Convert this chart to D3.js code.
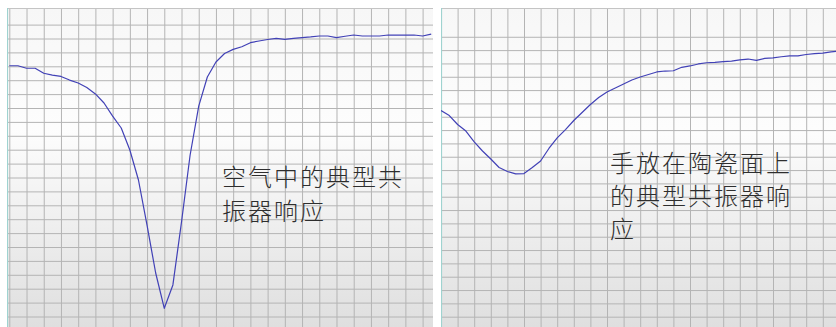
<!DOCTYPE html>
<html>
<head>
<meta charset="utf-8">
<script src="https://cdn.jsdelivr.net/npm/d3@7/dist/d3.min.js"></script>
<style>
  html, body { margin: 0; padding: 0; background: #ffffff; }
  svg { display: block; }
</style>
</head>
<body>
<svg id="chart" width="836" height="327"></svg>
<script>
// Resonator response in air (sample index 0..49, level in grid units)
const airResponse = [
  18.04, 18.04, 17.86, 17.86, 17.50, 17.37, 17.27, 17.01, 16.80, 16.47,
  16.01, 15.36, 14.42, 13.56, 11.98, 9.82, 6.55, 3.13, 0.59, 2.27,
  6.80, 11.62, 15.14, 17.23, 18.31, 18.92, 19.22, 19.41, 19.70, 19.82,
  19.93, 20.01, 19.94, 20.01, 20.06, 20.11, 20.18, 20.18, 20.06, 20.16,
  20.25, 20.18, 20.18, 20.18, 20.25, 20.25, 20.25, 20.25, 20.18, 20.32
];

// Resonator response with a hand resting on the ceramic surface
const handResponse = [
  15.47, 15.09, 14.42, 13.93, 13.11, 12.43, 11.83, 11.19, 10.89, 10.71,
  10.74, 11.19, 11.68, 12.62, 13.41, 14.04, 14.72, 15.32, 15.92, 16.44,
  16.86, 17.16, 17.46, 17.76, 17.98, 18.17, 18.36, 18.43, 18.45, 18.71,
  18.81, 18.96, 19.05, 19.08, 19.13, 19.18, 19.26, 19.33, 19.23, 19.38,
  19.41, 19.50, 19.56, 19.56, 19.67, 19.74, 19.78, 19.86, 19.93
];

const airCaption = ["空气中的典型共", "振器响应"];
const handCaption = ["手放在陶瓷面上", "的典型共振器响", "应"];

const panels = [
  {
    id: "air", data: airResponse, caption: airCaption,
    left: 7, right: 433, top: 8, bottom: 327,
    xDomain: [0, 48], xRange: [9.3, 422.6], xStep: 2,
    yDomain: [0, 22], yRange: [316.5, 316.5 - 22 * 13.9],
    textX: 222, textY: 185.5, lineH: 34.5
  },
  {
    id: "hand", data: handResponse, caption: handCaption,
    left: 441, right: 836, top: 8, bottom: 327,
    xDomain: [0, 46], xRange: [441, 441 + 23 * 16.6], xStep: 2,
    yDomain: [0, 22], yRange: [316.7, 316.7 - 22 * 13.33],
    textX: 610, textY: 171.5, lineH: 33
  }
];

const svg = d3.select("#chart");
const defs = svg.append("defs");

const grad = defs.append("linearGradient")
  .attr("id", "bg").attr("x1", 0).attr("y1", 0).attr("x2", 0).attr("y2", 1);
grad.append("stop").attr("offset", "0%").attr("stop-color", "#f7f7f7");
grad.append("stop").attr("offset", "38%").attr("stop-color", "#fdfdfd");
grad.append("stop").attr("offset", "100%").attr("stop-color", "#dfdfdf");

panels.forEach(p => {
  const w = p.right - p.left, h = p.bottom - p.top;
  defs.append("clipPath").attr("id", "clip-" + p.id)
    .append("rect").attr("x", p.left).attr("y", p.top).attr("width", w).attr("height", h);

  const g = svg.append("g").attr("clip-path", `url(#clip-${p.id})`);

  g.append("rect")
    .attr("x", p.left).attr("y", p.top).attr("width", w).attr("height", h)
    .attr("fill", "url(#bg)");

  const x = d3.scaleLinear().domain(p.xDomain).range(p.xRange);
  const y = d3.scaleLinear().domain(p.yDomain).range(p.yRange);

  // vertical grid lines, one every two samples
  const xTicks = d3.range(p.xDomain[0], p.xDomain[1] + 1, p.xStep);
  g.append("g")
    .attr("transform", `translate(0,${p.top})`)
    .call(d3.axisBottom(x).tickValues(xTicks).tickSize(h).tickFormat(""))
    .call(a => a.select(".domain").remove())
    .call(a => a.selectAll("line").attr("stroke", "#b4b4b4").attr("stroke-width", 1));

  // horizontal grid lines, one per level unit
  const yTicks = d3.range(0, 22);
  g.append("g")
    .attr("transform", `translate(${p.left},0)`)
    .call(d3.axisRight(y).tickValues(yTicks).tickSize(w).tickFormat(""))
    .call(a => a.select(".domain").remove())
    .call(a => a.selectAll("line").attr("stroke", "#b4b4b4").attr("stroke-width", 1));

  // frame: top edge and tinted left edge
  g.append("line")
    .attr("x1", p.left).attr("x2", p.right).attr("y1", p.top + 0.5).attr("y2", p.top + 0.5)
    .attr("stroke", "#c4c4c4");
  g.append("line")
    .attr("x1", p.left + 0.5).attr("x2", p.left + 0.5).attr("y1", p.top).attr("y2", p.bottom)
    .attr("stroke", "#9fd3d0").attr("stroke-width", 1.2);

  const line = d3.line().x((d, i) => x(i)).y(d => y(d));
  g.append("path")
    .datum(p.data)
    .attr("d", line)
    .attr("fill", "none")
    .attr("stroke", "#4141b6")
    .attr("stroke-width", 1.2)
    .attr("stroke-linejoin", "round");

  const t = g.append("text")
    .attr("x", p.textX).attr("y", p.textY)
    .attr("font-family", "'Noto Sans CJK SC', 'Noto Sans CJK JP', sans-serif")
    .attr("font-size", 24)
    .attr("font-weight", 300)
    .attr("letter-spacing", 2)
    .attr("fill", "#2e2e2e");
  t.selectAll("tspan")
    .data(p.caption)
    .join("tspan")
    .attr("x", p.textX)
    .attr("dy", (d, i) => i === 0 ? 0 : p.lineH)
    .text(d => d);
});
</script>
</body>
</html>
